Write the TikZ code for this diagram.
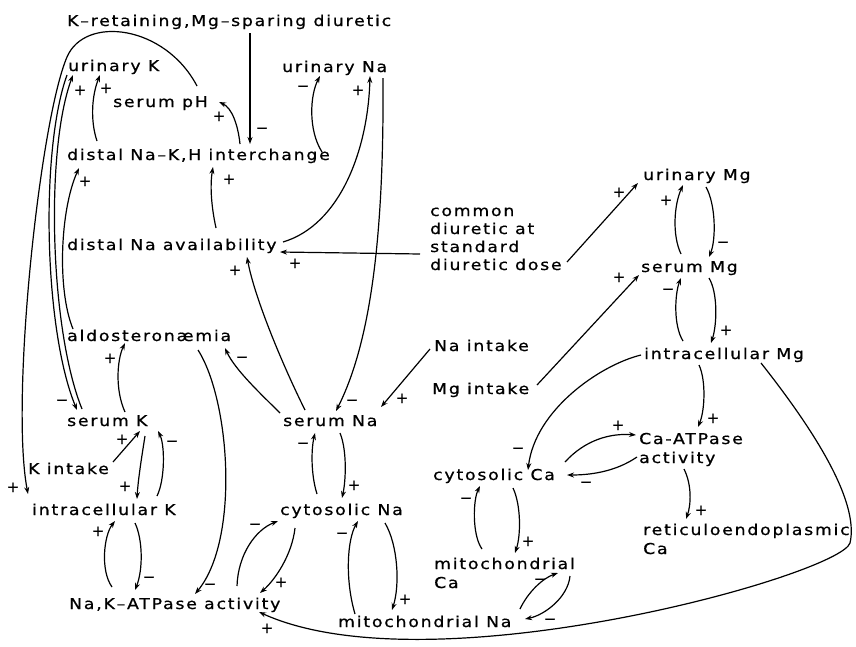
\documentclass[tikz,border=0pt]{standalone}
\usepackage{fontspec}
\setmainfont{DejaVu Sans}[LetterSpace=12, FakeStretch=1.15, FakeBold=0.8]
\newfontfamily\lblf{DejaVu Sans}[FakeBold=0.8]
\usetikzlibrary{arrows.meta}
\begin{document}
\begin{tikzpicture}[x=1pt,y=-1pt,
  t/.style={anchor=base west, inner sep=0pt, font=\fontsize{15}{19}\selectfont},
  lbl/.style={anchor=base, inner sep=0pt, font=\lblf\fontsize{15}{19}\selectfont},
  ar/.style={line width=1.2pt, -{Stealth[length=7pt,width=5pt]}}]
\useasboundingbox (0,0) rectangle (856,646);
% nodes
\node[t] (title) at (67,26) {K–retaining,Mg–sparing diuretic};
\node[t] (urK) at (68,71) {urinary K};
\node[t] (spH) at (113,107) {serum pH};
\node[t] (dNaK) at (67,160) {distal Na–K,H interchange};
\node[t] (urNa) at (282,72) {urinary Na};
\node[t] (dNaA) at (67,250) {distal Na availability};
\node[t,font=\fontsize{15}{18}\selectfont] (common) at (430,216) {\begin{tabular}[t]{@{}l@{}}common\\diuretic at\\standard\\diuretic dose\end{tabular}};
\node[t] (aldo) at (67,341) {aldosteronæmia};
\node[t] (NaIn) at (434,351) {Na intake};
\node[t] (MgIn) at (432,394) {Mg intake};
\node[t] (sK) at (67,426) {serum K};
\node[t] (sNa) at (283,426) {serum Na};
\node[t] (urMg) at (643,180) {urinary Mg};
\node[t] (sMg) at (641,272) {serum Mg};
\node[t] (inMg) at (644,359) {intracellular Mg};
\node[t] (KIn) at (28,474) {K intake};
\node[t] (inK) at (32,515) {intracellular K};
\node[t] (NaK) at (69,609) {Na,K–ATPase activity};
\node[t] (cNa) at (280,515) {cytosolic Na};
\node[t] (mNa) at (338,627) {mitochondrial Na};
\node[t] (cCa) at (433,480) {cytosolic Ca};
\node[t] (mCa) at (434,569) {\begin{tabular}[t]{@{}l@{}}mitochondrial\\Ca\end{tabular}};
\node[t] (CaAT) at (639,444) {\begin{tabular}[t]{@{}l@{}}Ca-ATPase\\activity\end{tabular}};
\node[t] (reti) at (643,535) {\begin{tabular}[t]{@{}l@{}}reticuloendoplasmic\\Ca\end{tabular}};
% connectors
\draw[ar] ([shift={(84,-21)}]spH.base west) .. controls (165,25) and (85,15) .. (67,57) .. controls (40,120) and (10,400) .. ([shift={(-4,-21)}]inK.base west);
\draw[ar] ([shift={(15,-17)}]sK.base west) .. controls (50,330) and (45,150) .. ([shift={(5,4)}]urK.base west);
\draw[ar] ([shift={(-1,4)}]urK.base west) .. controls (40,150) and (44,330) .. ([shift={(10,-16)}]sK.base west);
\draw[ar] ([shift={(30,-19)}]dNaK.base west) .. controls (90,120) and (92,95) .. ([shift={(32,4)}]urK.base west);
\draw[ar] ([shift={(173,-16)}]dNaK.base west) .. controls (238,125) and (232,108) .. ([shift={(106,-5)}]spH.base west);
\draw[ar] ([shift={(183,7)}]title.base west) -- ([shift={(183,-16)}]dNaK.base west);
\draw[ar] ([shift={(255,-8)}]dNaK.base west) .. controls (308,130) and (310,95) .. ([shift={(38,4)}]urNa.base west);
\draw[ar] ([shift={(216,-8)}]dNaA.base west) .. controls (340,225) and (368,150) .. ([shift={(88,4)}]urNa.base west);
\draw[ar] ([shift={(101,6)}]urNa.base west) .. controls (384,230) and (372,340) .. ([shift={(53,-15)}]sNa.base west);
\draw[ar] ([shift={(149,-22)}]dNaA.base west) .. controls (211,205) and (210,185) .. ([shift={(146,7)}]dNaK.base west);
\draw[ar] ([shift={(6,-12)}]aldo.base west) .. controls (57,290) and (60,210) .. ([shift={(12,8)}]dNaK.base west);
\draw[ar] ([shift={(-10,38)}]common.base west) -- ([shift={(213,2)}]dNaA.base west);
\draw[ar] ([shift={(137,46)}]common.base west) -- ([shift={(-5,3)}]urMg.base west);
\draw[ar] ([shift={(22,-16)}]sNa.base west) .. controls (285,370) and (255,300) .. ([shift={(180,7)}]dNaA.base west);
\draw[ar] ([shift={(-3,-13)}]sNa.base west) .. controls (262,395) and (235,370) .. ([shift={(158,7)}]aldo.base west);
\draw[ar] ([shift={(131,9)}]aldo.base west) .. controls (230,400) and (240,540) .. ([shift={(126,-15)}]NaK.base west);
\draw[ar] ([shift={(58,-14)}]sK.base west) .. controls (115,390) and (117,360) .. ([shift={(58,2)}]aldo.base west);
\draw[ar] ([shift={(85,-12)}]KIn.base west) -- ([shift={(73,5)}]sK.base west);
\draw[ar] ([shift={(78,10)}]sK.base west) .. controls (142,455) and (138,480) .. ([shift={(105,-16)}]inK.base west);
\draw[ar] ([shift={(125,-19)}]inK.base west) .. controls (165,480) and (165,445) .. ([shift={(91,5)}]sK.base west);
\draw[ar] ([shift={(43,-22)}]NaK.base west) .. controls (100,570) and (104,535) .. ([shift={(83,6)}]inK.base west);
\draw[ar] ([shift={(103,8)}]inK.base west) .. controls (143,540) and (143,570) .. ([shift={(66,-19)}]NaK.base west);
\draw[ar] ([shift={(168,-23)}]NaK.base west) .. controls (238,555) and (255,530) .. ([shift={(-2,6)}]cNa.base west);
\draw[ar] ([shift={(15,13)}]cNa.base west) .. controls (292,555) and (275,580) .. ([shift={(191,-16)}]NaK.base west);
\draw[ar] ([shift={(57,7)}]sNa.base west) .. controls (347,450) and (346,480) .. ([shift={(62,-17)}]cNa.base west);
\draw[ar] ([shift={(37,-21)}]cNa.base west) .. controls (311,475) and (311,450) .. ([shift={(32,7)}]sNa.base west);
\draw[ar] ([shift={(17,-13)}]mNa.base west) .. controls (345,580) and (347,540) .. ([shift={(78,6)}]cNa.base west);
\draw[ar] ([shift={(105,8)}]cNa.base west) .. controls (398,545) and (400,585) .. ([shift={(54,-17)}]mNa.base west);
\draw[ar] ([shift={(117,4)}]inMg.base west) .. controls (810,425) and (860,500) .. (850,543) .. controls (840,575) and (430,690) .. ([shift={(190,3)}]NaK.base west);
\draw[ar] ([shift={(40,-18)}]sMg.base west) .. controls (672,235) and (674,205) .. ([shift={(40,5)}]urMg.base west);
\draw[ar] ([shift={(63,7)}]urMg.base west) .. controls (716,205) and (716,240) .. ([shift={(68,-15)}]sMg.base west);
\draw[ar] ([shift={(105,-9)}]MgIn.base west) -- ([shift={(-2,3)}]sMg.base west);
\draw[ar] ([shift={(39,-18)}]inMg.base west) .. controls (673,325) and (675,293) .. ([shift={(40,6)}]sMg.base west);
\draw[ar] ([shift={(68,6)}]sMg.base west) .. controls (718,293) and (717,325) .. ([shift={(67,-16)}]inMg.base west);
\draw[ar] ([shift={(-3,-4)}]inMg.base west) .. controls (600,365) and (535,410) .. ([shift={(95,-10)}]cCa.base west);
\draw[ar] ([shift={(132,-18)}]cCa.base west) .. controls (585,440) and (610,433) .. ([shift={(-3,-9)}]CaAT.base west);
\draw[ar] ([shift={(-2,13)}]CaAT.base west) .. controls (615,472) and (590,475) .. ([shift={(134,-5)}]cCa.base west);
\draw[ar] ([shift={(45,25)}]CaAT.base west) .. controls (692,485) and (691,505) .. ([shift={(43,-16)}]reti.base west);
\draw[ar] ([shift={(48,-20)}]mCa.base west) .. controls (472,535) and (473,500) .. ([shift={(47,6)}]cCa.base west);
\draw[ar] ([shift={(80,8)}]cCa.base west) .. controls (521,505) and (521,535) .. ([shift={(81,-16)}]mCa.base west);
\draw[ar] ([shift={(182,-18)}]mNa.base west) .. controls (528,592) and (543,578) .. ([shift={(124,4)}]mCa.base west);
\draw[ar] ([shift={(136,7)}]mCa.base west) .. controls (568,597) and (545,615) .. ([shift={(187,-8)}]mNa.base west);
\draw[ar] ([shift={(-4,-2)}]NaIn.base west) -- ([shift={(98,-19)}]sNa.base west);
\draw[ar] ([shift={(55,6)}]inMg.base west) .. controls (706,380) and (705,410) .. ([shift={(59,-17)}]CaAT.base west);
% sign labels
\node[lbl] (l1) at (13,492) {+};
\node[lbl] (l2) at (80,95) {+};
\node[lbl] (l3) at (62,405) {−};
\node[lbl] (l4) at (106,93) {+};
\node[lbl] (l5) at (219,121) {+};
\node[lbl] (l6) at (262,133) {−};
\node[lbl] (l7) at (303,91) {−};
\node[lbl] (l8) at (358,95) {+};
\node[lbl] (l9) at (352,405) {−};
\node[lbl] (l10) at (229,184) {+};
\node[lbl] (l11) at (85,186) {+};
\node[lbl] (l12) at (295,268) {+};
\node[lbl] (l13) at (619,197) {+};
\node[lbl] (l14) at (235,275) {+};
\node[lbl] (l15) at (242,362) {−};
\node[lbl] (l16) at (210,589) {−};
\node[lbl] (l17) at (110,363) {+};
\node[lbl] (l18) at (122,444) {+};
\node[lbl] (l19) at (125,491) {+};
\node[lbl] (l20) at (172,446) {−};
\node[lbl] (l21) at (98,536) {+};
\node[lbl] (l22) at (149,582) {−};
\node[lbl] (l23) at (255,529) {−};
\node[lbl] (l24) at (281,587) {+};
\node[lbl] (l25) at (354,490) {+};
\node[lbl] (l26) at (303,448) {−};
\node[lbl] (l27) at (342,538) {−};
\node[lbl] (l28) at (405,604) {+};
\node[lbl] (l29) at (267,633) {+};
\node[lbl] (l30) at (666,205) {+};
\node[lbl] (l31) at (723,247) {−};
\node[lbl] (l32) at (619,282) {+};
\node[lbl] (l33) at (668,294) {−};
\node[lbl] (l34) at (726,335) {+};
\node[lbl] (l35) at (518,453) {−};
\node[lbl] (l36) at (618,430) {+};
\node[lbl] (l37) at (586,487) {−};
\node[lbl] (l38) at (701,515) {+};
\node[lbl] (l39) at (466,503) {−};
\node[lbl] (l40) at (528,546) {+};
\node[lbl] (l41) at (540,584) {−};
\node[lbl] (l42) at (550,624) {−};
\node[lbl] (l43) at (402,403) {+};
\node[lbl] (l44) at (713,423) {+};
\end{tikzpicture}
\end{document}
